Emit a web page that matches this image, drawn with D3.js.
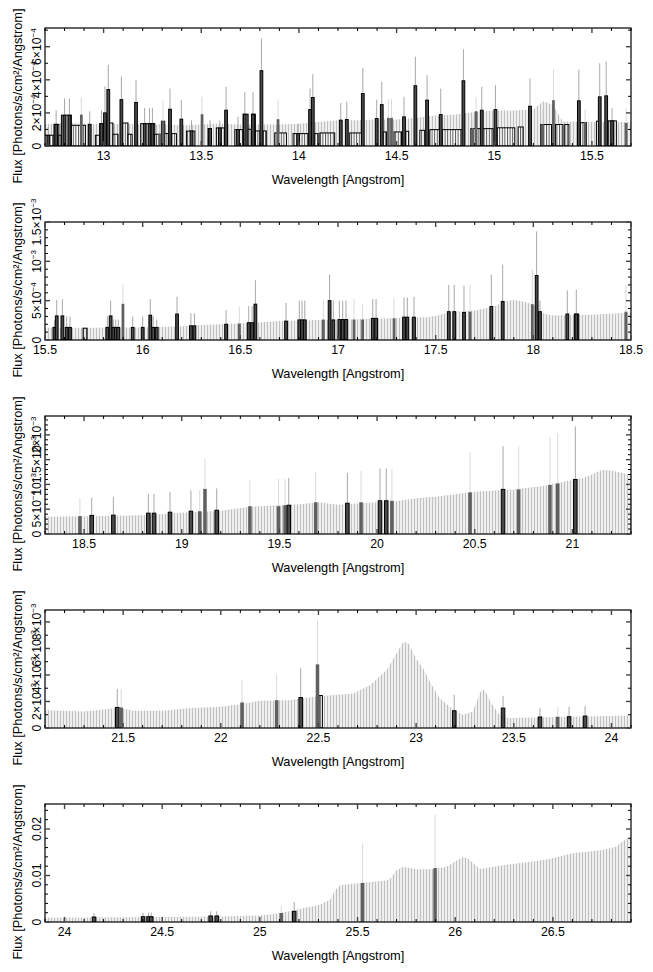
<!DOCTYPE html>
<html><head><meta charset="utf-8">
<script src="https://cdn.jsdelivr.net/npm/d3@7"></script>
<style>body{margin:0;background:#fff}text{font-family:"Liberation Sans",Arial,Helvetica,sans-serif;fill:#000}</style>
</head><body><svg id="c" width="653" height="972"></svg>
<script>
// ---------------- data ----------------
const xDomains = [[12.7,15.7],[15.5,18.5],[18.3,21.3],[21.1,24.1],[23.9,26.9]];
const yMax = [7.13e-4, 1.5e-3, 2.38e-3, 8.9e-3, 0.02537];
const units = [1e-4, 1e-4, 1e-4, 1e-3, 1e-3];

const xTicks = [
  [13,13.5,14,14.5,15,15.5],
  [15.5,16,16.5,17,17.5,18,18.5],
  [18.5,19,19.5,20,20.5,21],
  [21.5,22,22.5,23,23.5,24],
  [24,24.5,25,25.5,26,26.5]
];
const yTicks = [
  [0,2e-4,4e-4,6e-4],
  [0,5e-4,1e-3,1.5e-3],
  [0,5e-4,1e-3,1.5e-3,2e-3],
  [0,2e-3,4e-3,6e-3,8e-3],
  [0,0.01,0.02]
];
const yTickLabels = [
  ["0","2×10^−4","4×10^−4","6×10^−4"],
  ["0","5×10^−4","10^−3","1.5×10^−3"],
  ["0","5×10^−4","10^−3","1.5×10^−3","2×10^−3"],
  ["0","2×10^−3","4×10^−3","6×10^−3","8×10^−3"],
  ["0","0.01","0.02"]
];
const yMinorStep = [1e-4,1e-4,1e-4,1e-3,0.002];

// model level (wavelength, flux in panel units)
const p1Model = [[12.7,1.3],[12.8,1.4],[12.9,1.35],[13.0,1.3],[13.1,1.35],[13.2,1.3],[13.3,1.3],[13.4,1.25],[13.5,1.3],[13.6,1.35],[13.7,1.3],[13.8,1.3],[13.9,1.3],[14.0,1.35],[14.1,1.45],[14.2,1.55],[14.3,1.55],[14.4,1.6],[14.5,1.6],[14.6,1.7],[14.7,1.85],[14.8,1.9],[14.9,2.05],[15.0,2.15],[15.1,2.15],[15.2,2.2],[15.25,2.7],[15.3,2.5],[15.35,1.5],[15.45,1.45],[15.55,1.45],[15.7,1.45]];
const p2Model = [[15.5,1.55],[15.7,1.55],[16.0,1.6],[16.2,1.75],[16.3,1.9],[16.5,2.1],[16.7,2.4],[16.9,2.55],[17.1,2.65],[17.3,2.8],[17.45,2.9],[17.5,3.05],[17.55,3.4],[17.6,3.6],[17.7,3.75],[17.8,4.25],[17.85,4.9],[17.9,5.1],[17.95,4.9],[18.0,4.5],[18.05,3.4],[18.1,3.1],[18.3,3.2],[18.5,3.5]];
const p3Model = [[18.3,3.5],[18.5,3.6],[18.8,3.8],[19.0,4.3],[19.2,4.7],[19.35,5.5],[19.6,6.0],[19.7,6.4],[19.8,5.9],[19.95,6.3],[20.1,6.6],[20.2,7.2],[20.3,7.5],[20.5,8.5],[20.7,9.0],[20.85,9.7],[21.0,10.9],[21.05,11.2],[21.1,12.0],[21.15,12.9],[21.2,12.8],[21.3,11.9]];
const p4Model = [[21.1,1.33],[21.2,1.3],[21.3,1.25],[21.4,1.4],[21.48,1.55],[21.55,1.3],[21.7,1.3],[21.85,1.5],[22.0,1.6],[22.1,1.8],[22.2,2.05],[22.35,2.1],[22.45,2.3],[22.55,2.45],[22.68,2.6],[22.765,3.25],[22.85,4.4],[22.89,5.4],[22.935,6.5],[22.96,6.4],[23.0,5.25],[23.04,4.4],[23.07,3.5],[23.12,2.25],[23.19,1.4],[23.24,1.0],[23.29,1.25],[23.33,2.75],[23.35,2.9],[23.38,2.0],[23.42,1.1],[23.47,0.75],[23.6,0.8],[23.8,0.85],[24.1,0.95]];
const p5Model = [[23.9,0.93],[24.5,1.07],[24.8,1.2],[25.0,1.4],[25.1,1.9],[25.2,2.8],[25.3,3.6],[25.36,4.8],[25.385,6.8],[25.41,7.9],[25.48,8.2],[25.649,8.9],[25.667,9.3],[25.70,11.1],[25.735,11.9],[25.803,11.3],[25.888,11.4],[25.956,11.9],[26.007,13.2],[26.041,13.9],[26.067,13.6],[26.126,11.4],[26.26,12.3],[26.465,13.4],[26.6,14.8],[26.755,15.5],[26.823,16.2],[26.866,17.6],[26.9,18.2]];

// histogram steps (start, end, flux)
const p1Steps = [[12.699,12.746,0.65],[12.746,12.771,1.3],[12.771,12.784,0.65],[12.784,12.835,1.86],[12.835,12.907,1.25],[12.958,12.98,0.65],[12.98,13.002,1.35],[13.014,13.048,1.39],[13.048,13.074,0.71],[13.088,13.125,1.39],[13.125,13.146,0.71],[13.19,13.262,1.35],[13.262,13.287,0.71],[13.296,13.313,1.5],[13.313,13.334,0.75],[13.347,13.373,0.75],[13.424,13.467,0.9],[13.535,13.552,1.05],[13.577,13.62,1.09],[13.672,13.714,0.99],[13.714,13.74,1.92],[13.74,13.757,1.01],[13.757,13.777,1.92],[13.777,13.80,0.91],[13.816,13.833,0.91],[13.876,13.936,0.79],[13.97,14.047,0.75],[14.078,14.098,0.75],[14.107,14.183,0.79],[14.26,14.32,0.79],[14.431,14.448,0.85],[14.487,14.525,0.85],[14.545,14.562,0.89],[14.619,14.644,0.95],[14.67,14.721,0.99],[14.733,14.835,0.99],[14.88,14.994,1.05],[15.015,15.105,1.1],[15.122,15.148,1.15],[15.238,15.293,1.3],[15.313,15.352,1.3],[15.361,15.382,1.3],[15.44,15.472,1.41],[15.523,15.54,1.5],[15.583,15.625,1.52]];
const p2Steps = [[15.695,15.715,1.5],[18.21,18.232,3.3]];
const p3Steps = [];
const p4Steps = [[22.503,22.52,2.45]];
const p5Steps = [];

// data bins (wavelength, flux, error top, set 1=black 2=grey)
const p1Bars = [[12.717,0.65,1.15,1],[12.757,1.31,2.16,1],[12.80,1.86,2.87,1],[12.825,1.86,2.87,1],[12.886,1.9,2.97,2],[12.929,1.31,2.1,1],[12.989,1.35,2.16,1],[13.007,2.0,3.6,1],[13.024,3.41,4.9,1],[13.091,2.8,4.2,1],[13.166,2.63,4.0,1],[13.21,1.35,2.3,1],[13.235,1.35,2.3,1],[13.25,1.35,2.3,1],[13.287,0.75,1.15,2],[13.304,1.5,2.77,2],[13.34,2.22,3.47,1],[13.398,1.62,2.77,1],[13.45,0.91,1.55,1],[13.504,1.92,2.97,2],[13.545,1.05,1.55,1],[13.595,1.09,1.55,1],[13.627,2.16,3.58,1],[13.688,0.99,1.76,1],[13.723,1.92,3.27,1],[13.765,1.92,3.27,1],[13.808,4.55,6.5,1],[13.893,1.62,2.8,2],[13.996,0.75,1.35,1],[14.057,2.2,3.47,1],[14.071,2.93,4.34,1],[14.214,1.56,2.6,1],[14.245,1.6,2.67,1],[14.327,3.17,4.73,1],[14.398,1.66,2.8,1],[14.424,2.5,3.88,1],[14.458,1.7,2.85,2],[14.474,1.7,2.85,2],[14.538,1.76,2.97,1],[14.596,3.64,5.4,1],[14.656,2.77,4.28,1],[14.726,1.9,3.47,1],[14.842,3.94,5.84,1],[14.89,1.05,1.7,2],[14.907,2.1,2.97,2],[14.936,2.16,3.58,1],[15.006,2.2,3.68,1],[15.183,2.4,4.08,1],[15.248,1.3,2.2,2],[15.303,2.77,4.65,2],[15.433,2.73,4.6,1],[15.465,1.41,2.2,2],[15.54,2.97,5.0,1],[15.573,3.03,5.1,1],[15.603,1.52,2.3,1],[15.675,1.39,2.3,2]];
const p2Bars = [[15.548,1.6,2.5,1],[15.56,3.06,5.1,1],[15.589,3.06,5.2,1],[15.611,1.6,3.0,1],[15.628,1.6,3.0,1],[15.819,1.6,3.0,1],[15.836,3.06,5.0,1],[15.85,1.6,2.6,1],[15.862,1.6,2.6,1],[15.875,1.6,2.6,1],[15.899,4.6,7.1,2],[15.949,1.6,3.0,1],[16.0,1.6,3.0,1],[16.039,3.15,5.2,1],[16.054,1.6,3.0,1],[16.072,1.6,2.6,1],[16.176,3.3,5.5,1],[16.247,1.8,3.4,1],[16.265,1.8,3.4,1],[16.427,2.0,3.8,1],[16.495,2.1,4.25,2],[16.543,2.2,4.3,1],[16.56,2.2,4.3,1],[16.577,4.55,7.6,1],[16.734,2.4,4.7,1],[16.802,2.55,5.0,1],[16.816,2.55,5.0,1],[16.83,2.55,5.0,1],[16.925,2.6,5.0,2],[16.957,5.0,8.3,1],[16.976,2.55,5.0,1],[17.007,2.6,5.0,1],[17.024,2.6,5.0,1],[17.041,2.6,5.0,1],[17.082,2.6,5.2,2],[17.126,2.6,4.6,2],[17.178,2.75,5.2,1],[17.195,2.75,5.2,1],[17.287,2.75,5.4,2],[17.338,2.9,5.4,1],[17.355,2.9,5.4,1],[17.389,2.9,5.5,1],[17.567,3.6,7.0,1],[17.595,3.6,7.0,1],[17.645,3.5,6.9,1],[17.676,3.6,7.0,2],[17.785,4.25,8.3,1],[17.843,4.9,9.6,1],[17.995,4.55,8.9,2],[18.017,8.2,13.8,1],[18.034,3.6,5.0,1],[18.174,3.3,6.3,1],[18.22,3.3,6.4,1],[18.474,3.6,7.0,2]];
const p3Bars = [[18.479,3.6,7.2,2],[18.539,3.75,7.3,1],[18.65,3.8,7.5,1],[18.829,4.2,8.1,1],[18.858,4.2,8.1,1],[18.94,4.4,8.5,1],[19.047,4.6,8.8,1],[19.092,4.6,8.9,2],[19.119,9.1,15.2,2],[19.179,4.8,9.2,1],[19.349,5.6,11.0,2],[19.496,5.6,11.1,2],[19.529,5.8,11.1,2],[19.548,5.8,11.3,1],[19.686,6.4,12.5,2],[19.848,6.2,12.3,1],[19.918,6.4,12.7,2],[20.015,6.7,13.2,1],[20.047,6.7,13.2,1],[20.076,6.7,13.1,2],[20.476,8.4,16.5,2],[20.645,9.0,17.7,1],[20.725,9.0,17.7,2],[20.885,9.9,19.6,2],[20.925,10.2,20.3,2],[21.015,11.0,21.7,1]];
const p4Bars = [[21.47,1.55,2.95,1],[21.49,1.55,2.95,2],[22.109,1.93,3.6,2],[22.286,2.1,4.05,2],[22.409,2.3,4.5,1],[22.495,4.8,8.1,2],[23.195,1.3,2.5,1],[23.445,1.5,2.43,1],[23.634,0.83,1.5,1],[23.725,0.85,1.6,2],[23.783,0.85,1.6,1],[23.865,0.9,1.65,1]];
const p5Bars = [[24.151,1.07,1.93,1],[24.402,1.14,2.0,1],[24.43,1.14,2.0,1],[24.444,1.14,2.0,1],[24.748,1.3,2.29,1],[24.779,1.3,2.29,1],[25.11,1.93,3.57,2],[25.176,2.29,4.3,1],[25.526,8.4,16.9,2],[25.897,11.6,23.0,2]];

// ---------------- drawing ----------------
const models = [p1Model,p2Model,p3Model,p4Model,p5Model];
const stepsAll = [p1Steps,p2Steps,p3Steps,p4Steps,p5Steps];
const barsAll = [p1Bars,p2Bars,p3Bars,p4Bars,p5Bars];
const binW = [0.014,0.014,0.018,0.018,0.018];

const svg = d3.select("#c");
const defs = svg.append("defs");
const pat = defs.append("pattern").attr("id","mdl").attr("patternUnits","userSpaceOnUse").attr("width",3).attr("height",10);
pat.append("rect").attr("width",3).attr("height",10).attr("fill","#efefef");
pat.append("rect").attr("x",0).attr("width",0.8).attr("height",10).attr("fill","#b4b4b4");
const comb = defs.append("pattern").attr("id","comb").attr("patternUnits","userSpaceOnUse").attr("width",2.6).attr("height",10);
comb.append("rect").attr("width",2.6).attr("height",10).attr("fill","#fff");
comb.append("rect").attr("x",0).attr("width",1).attr("height",10).attr("fill","#555");

const L = 45, R = 631, PH = 118, TOP0 = 28, GAP = 194;

for (let i = 0; i < 5; i++) {
  const t = TOP0 + i*GAP, b = t + PH, u = units[i];
  const x = d3.scaleLinear().domain(xDomains[i]).range([L,R]);
  const y = d3.scaleLinear().domain([0,yMax[i]]).range([b,t]);
  const cid = "clip"+i;
  defs.append("clipPath").attr("id",cid).append("rect").attr("x",L).attr("y",t).attr("width",R-L).attr("height",PH);
  const g = svg.append("g").attr("clip-path",`url(#${cid})`);

  const area = d3.area().x(d=>x(d[0])).y0(b).y1(d=>y(d[1]*u));
  g.append("path").datum(models[i]).attr("d",area).attr("fill","url(#mdl)");

  g.selectAll("rect.st").data(stepsAll[i]).join("rect").attr("class","st")
    .attr("x",d=>x(d[0])).attr("width",d=>x(d[1])-x(d[0]))
    .attr("y",d=>y(d[2]*u)).attr("height",d=>b-y(d[2]*u))
    .attr("fill","url(#comb)").attr("stroke","#000").attr("stroke-width",1);

  g.selectAll("line.er").data(barsAll[i]).join("line").attr("class","er")
    .attr("x1",d=>x(d[0])).attr("x2",d=>x(d[0]))
    .attr("y1",d=>y(d[1]*u)).attr("y2",d=>y(d[2]*u))
    .attr("stroke",d=>d[3]===1?"#a8a8a8":"#dadada").attr("stroke-width",1);

  const w = binW[i];
  g.selectAll("rect.bar").data(barsAll[i]).join("rect").attr("class","bar")
    .attr("x",d=>x(d[0]-w/2)).attr("width",d=>x(d[0]+w/2)-x(d[0]-w/2))
    .attr("y",d=>y(d[1]*u)).attr("height",d=>b-y(d[1]*u))
    .attr("fill",d=>d[3]===1?"#4a4a4a":"#606060")
    .attr("stroke",d=>d[3]===1?"#000":"none").attr("stroke-width",1);

  // frame
  svg.append("rect").attr("x",L).attr("y",t).attr("width",R-L).attr("height",PH)
    .attr("fill","none").attr("stroke","#000").attr("stroke-width",1.2);

  const ax = svg.append("g");
  // x ticks
  const xMinor = d3.range(Math.ceil(xDomains[i][0]*10), Math.floor(xDomains[i][1]*10)+1).map(k=>k/10);
  xMinor.forEach(v=>{
    const major = xTicks[i].some(m=>Math.abs(m-v)<1e-6);
    const len = major?5:3;
    const px = x(v);
    ax.append("line").attr("x1",px).attr("x2",px).attr("y1",b).attr("y2",b-len)
      .attr("stroke",major?"#444":"#000").attr("stroke-width",major?1.4:1);
    ax.append("line").attr("x1",px).attr("x2",px).attr("y1",t).attr("y2",t+len)
      .attr("stroke",major?"#444":"#000").attr("stroke-width",major?1.4:1);
  });
  xTicks[i].forEach(v=>{
    ax.append("text").attr("x",x(v)).attr("y",b+14).attr("text-anchor","middle")
      .attr("font-size",12.3).text(String(v));
  });
  // y ticks
  const ym = d3.range(0, yMax[i]*1.0001, yMinorStep[i]);
  ym.forEach(v=>{
    const major = yTicks[i].some(m=>Math.abs(m-v)<yMinorStep[i]*1e-3);
    const len = major?5:3;
    const py = y(v);
    ax.append("line").attr("x1",L).attr("x2",L+len).attr("y1",py).attr("y2",py)
      .attr("stroke",major?"#444":"#000").attr("stroke-width",major?1.4:1);
    ax.append("line").attr("x1",R).attr("x2",R-len).attr("y1",py).attr("y2",py)
      .attr("stroke",major?"#444":"#000").attr("stroke-width",major?1.4:1);
  });
  yTicks[i].forEach((v,k)=>{
    const lab = yTickLabels[i][k];
    const tx = ax.append("text").attr("transform",`translate(41,${y(v)}) rotate(-90)`)
      .attr("text-anchor","middle").attr("font-size",12.3);
    const parts = lab.split("^");
    tx.append("tspan").text(parts[0]);
    if (parts[1]) tx.append("tspan").attr("font-size",8).attr("dy",-5).text(parts[1]);
  });
  // titles
  ax.append("text").attr("x",(L+R)/2).attr("y",b+38).attr("text-anchor","middle")
    .attr("font-size",12.8).text("Wavelength [Angstrom]");
  ax.append("text").attr("transform",`translate(22,${t+PH/2+9}) rotate(-90)`)
    .attr("text-anchor","middle").attr("font-size",12.8).text("Flux [Photons/s/cm²/Angstrom]");
}
</script></body></html>
